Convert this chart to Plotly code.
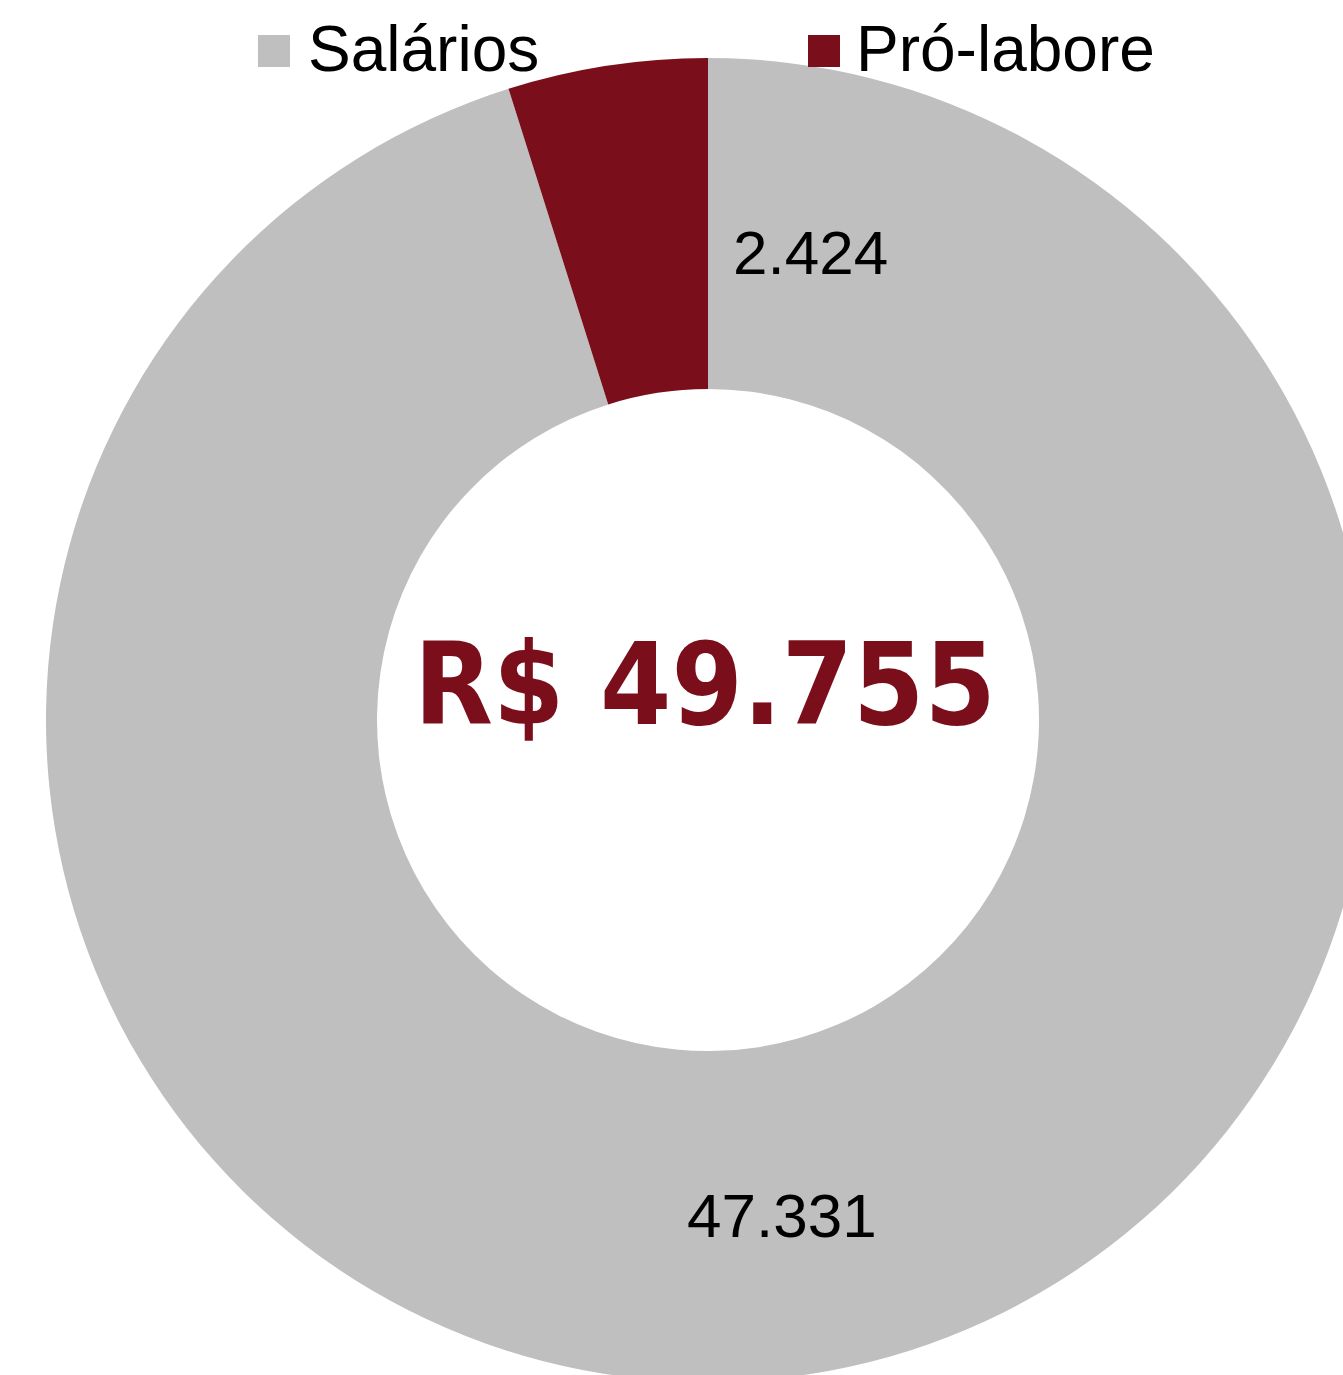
import plotly.graph_objects as go

labels = ["Salários", "Pró-labore"]
values = [47331, 2424]
colors = ["#BFBFBF", "#7B0E1B"]
value_texts = ["47.331", "2.424"]
total_text = "R$ 49.755"

W, H = 1416, 1440
cx, cy, R = 708, 720, 662  # pixel centre/radius


def px(x):
    return x / W


def py(y):
    return 1 - y / H


fig = go.Figure(go.Pie(
    labels=labels,
    values=values,
    marker=dict(colors=colors, line=dict(width=0)),
    hole=0.5,
    sort=False,
    direction="clockwise",
    rotation=0,
    textinfo="none",
    hoverinfo="label+value",
    showlegend=False,
    domain=dict(x=[px(cx - R), px(cx + R)], y=[py(cy + R), py(cy - R)]),
))

font_main = "Liberation Sans, Arial, sans-serif"
annotations = []
# value labels
label_pos = {"2.424": (811, 252), "47.331": (782, 1215)}
for t in value_texts:
    x, y = label_pos[t]
    annotations.append(dict(x=px(x), y=py(y), xref="paper", yref="paper", text=t,
                            showarrow=False, xanchor="center", yanchor="middle",
                            font=dict(size=62, color="#000000", family=font_main)))
# centre total
annotations.append(dict(x=px(705), y=py(684), xref="paper", yref="paper", text="<b>" + total_text + "</b>",
                        showarrow=False, xanchor="center", yanchor="middle",
                        font=dict(size=114, color="#7B0E1B",
                                  family="Liberation Sans Narrow, DejaVu Sans Condensed, Liberation Sans, sans-serif")))

# custom legend
shapes = []
leg_pos = [(258, 306), (808, 854)]
for (sq, tx), lab, col in zip(leg_pos, labels, colors):
    shapes.append(dict(type="rect", xref="paper", yref="paper",
                       x0=px(sq), x1=px(sq + 32), y0=py(67), y1=py(35),
                       fillcolor=col, line=dict(width=0)))
    annotations.append(dict(x=px(tx), y=py(49), xref="paper", yref="paper", text=lab,
                            showarrow=False, xanchor="left", yanchor="middle",
                            font=dict(size=64, color="#000000", family=font_main)))

fig.update_layout(
    width=W, height=H,
    margin=dict(l=0, r=0, t=0, b=0),
    paper_bgcolor="white",
    plot_bgcolor="white",
    annotations=annotations,
    shapes=shapes,
)

fig.write_html("out.html",
               post_script="document.body.style.margin='0';document.body.style.overflow='hidden';document.documentElement.style.overflow='hidden';")
